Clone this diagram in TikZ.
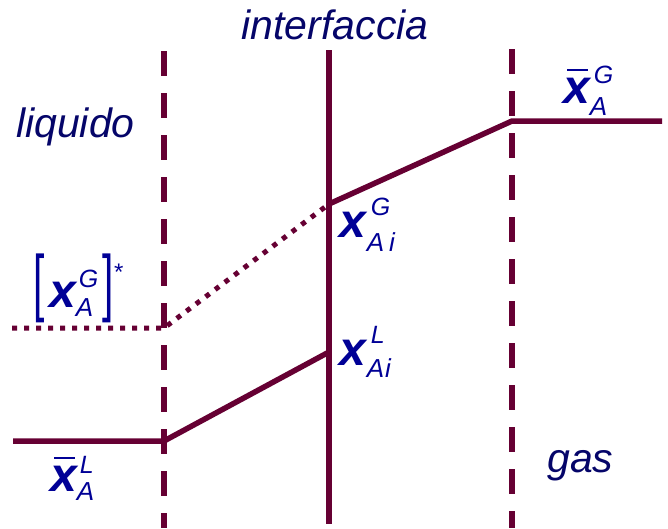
\documentclass[tikz,border=0pt]{standalone}
\usepackage{fontspec}
\setmainfont{Liberation Sans}
\definecolor{linec}{RGB}{102,0,51}
\definecolor{wordc}{RGB}{5,5,105}
\definecolor{symc}{RGB}{0,0,150}
\newcommand\bxf{\fontsize{48}{48}\selectfont\bfseries\itshape}
\newcommand\supf{\fontsize{25}{25}\selectfont\itshape}
\newcommand\subf{\fontsize{26}{26}\selectfont\itshape}
\newcommand\bx{{\bxf x}}
\newcommand\bxbar{\makebox[0pt][l]{\kern4pt\rule[32pt]{21pt}{2pt}}{\bxf x}}
% #1 base, #2 sup, #3 sub, #4 sub kern, #5 extra sup kern, #6 sup raise, #7 sub drop
\newcommand\xsym[7]{#1\kern#4\rlap{\kern#5\raisebox{#6}{\supf #2}}\raisebox{-#7}{\subf #3}}
\tikzset{
  lineclr/.style={draw=linec, line width=5.5pt},
  vdash/.style={lineclr, dash pattern=on 25pt off 17pt},
  dotl/.style={draw=linec, line width=5pt, dash pattern=on 5pt off 7pt},
  word/.style={text=wordc, font=\fontsize{41}{41}\selectfont\itshape, inner sep=0pt},
  sym/.style={text=symc, inner sep=0pt, anchor=base west},
}
\begin{document}
\begin{tikzpicture}[x=1pt,y=-1pt]
\useasboundingbox (0,0) rectangle (668,528);
% vertical lines
\coordinate (l1) at (164,51);
\coordinate (l2) at (164,528);
\coordinate (r1) at (512,49);
\coordinate (r2) at (512,528);
\coordinate (i1) at (329,50);
\coordinate (i2) at (329,524);
\draw[vdash] (l1) -- (l2);
\draw[vdash] (r1) -- (r2);
\draw[lineclr] (i1) -- (i2);
% profiles
\coordinate (a0) at (13,441);
\coordinate (a1) at (164,441);
\coordinate (a2) at (329,352);
\draw[lineclr] (a0) -- (a1) -- (a2);
\coordinate (b0) at (12,328);
\coordinate (b1) at (164,328);
\coordinate (b2) at (329,204);
\draw[dotl] (b0) -- (b1) -- (b2);
\coordinate (c2) at (662,121);
\coordinate (c1) at (512,121);
\draw[lineclr, line join=round] (b2) -- (c1) -- (c2);
% words
\node[word, anchor=base] (tint) at (335,39) {interfaccia};
\node[word, anchor=base west] (tliq) at (16,137) {liquido};
\node[word, anchor=base west] (tgas) at (547,472) {gas};
% symbols
\node[sym] (xig) at (339,237) {\xsym{\bx}{G}{A\kern5pt i}{1pt}{4pt}{22pt}{14pt}};
\node[sym] (xil) at (339,365) {\xsym{\bx}{L}{A\kern1pt i}{1pt}{4pt}{22pt}{12pt}};
\node[sym] (xbg) at (563,103) {\xsym{\bxbar}{G}{A}{0pt}{4pt}{20pt}{12pt}};
\node[sym] (xbl) at (50,491) {\xsym{\bxbar}{L}{A}{0pt}{3pt}{18pt}{9pt}};
\node[sym] (brl) at (33,307) {\fontsize{74}{74}\selectfont\scalebox{0.55}[1]{[}};
\node[sym] (xst) at (49,307) {\xsym{\bx}{G}{A}{0pt}{3pt}{20pt}{9pt}};
\node[sym] (brr) at (102,307) {\fontsize{74}{74}\selectfont\scalebox{0.55}[1]{]}};
\node[sym] (ast) at (114,280) {\fontsize{24}{24}\selectfont *};
\end{tikzpicture}
\end{document}
